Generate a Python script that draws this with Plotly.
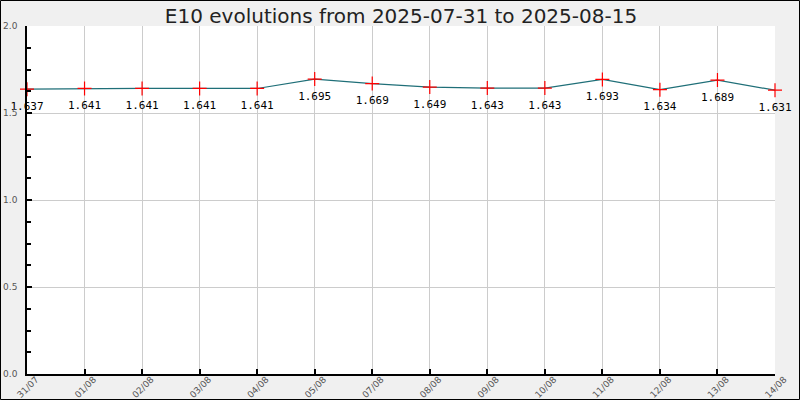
import plotly.graph_objects as go

dates = ["31/07", "01/08", "02/08", "03/08", "04/08", "05/08", "07/08",
         "08/08", "09/08", "10/08", "11/08", "12/08", "13/08", "14/08"]
prices = [1.637, 1.641, 1.641, 1.641, 1.641, 1.695, 1.669,
          1.649, 1.643, 1.643, 1.693, 1.634, 1.689, 1.631]
labels = [f"{v:.3f}" for v in prices]
title = "E10 evolutions from 2025-07-31 to 2025-08-15"

W, H = 800, 400
ml, mr, mt, mb = 27, 25, 26, 26
pw, ph = W - ml - mr, H - mt - mb

fig = go.Figure()
fig.add_trace(go.Scatter(
    x=dates, y=prices, mode="lines+markers",
    line=dict(color="#1f6f78", width=1.2),
    marker=dict(symbol="cross-thin", size=10, line=dict(color="#ff0000", width=1.2), color="#ff0000"),
    cliponaxis=False, showlegend=False, hoverinfo="skip",
))
# value labels below the points
fig.add_trace(go.Scatter(
    x=dates, y=prices, mode="text+markers",
    marker=dict(size=18, color="rgba(0,0,0,0)"),
    text=labels, textposition="bottom center",
    textfont=dict(family="DejaVu Sans Mono", size=11, color="#000000"),
    cliponaxis=False, showlegend=False, hoverinfo="skip",
))

fig.update_layout(
    width=W, height=H,
    margin=dict(l=ml, r=mr, t=mt, b=mb, pad=0, autoexpand=False),
    paper_bgcolor="#f0f0f0", plot_bgcolor="#ffffff",
    title=dict(text=title, x=0.5, xref="paper", xanchor="center", y=1 - 16 / H, yanchor="middle",
               automargin=False,
               font=dict(family="DejaVu Sans", size=20, color="#222222")),
    font=dict(family="DejaVu Sans"),
)
fig.update_xaxes(
    type="category", range=[0, len(dates) - 1], automargin=False,
    showgrid=True, gridcolor="#cccccc", gridwidth=1,
    showline=True, linecolor="#000000", linewidth=1.5,
    ticks="inside", ticklen=5, tickcolor="#000000", tickwidth=1.5,
    tickangle=-45, tickfont=dict(family="DejaVu Sans", size=9, color="#555555"),
    ticklabelstandoff=-5, ticklabelshift=9,
    zeroline=False,
)
fig.update_yaxes(
    range=[0, 2.0], dtick=0.5, tick0=0, tickformat=".1f", automargin=False,
    showgrid=True, gridcolor="#cccccc", gridwidth=1,
    showline=True, linecolor="#000000", linewidth=1.5,
    ticks="inside", ticklen=5, tickcolor="#000000", tickwidth=1.5,
    minor=dict(dtick=0.125, ticks="inside", ticklen=4, tickcolor="#000000", showgrid=False),
    tickfont=dict(family="DejaVu Sans", size=9, color="#555555"),
    ticklabelstandoff=6,
    zeroline=False,
)
# outer border around the whole image
fig.add_shape(type="rect", xref="paper", yref="paper",
              x0=(0.5 - ml) / pw, x1=(W - 0.5 - ml) / pw,
              y0=-(mb - 0.5) / ph, y1=1 + (mt - 0.5) / ph,
              line=dict(color="#000000", width=1), fillcolor="rgba(0,0,0,0)", layer="above")

fig.write_html("out.html", config={"displayModeBar": False},
               post_script="document.body.style.margin='0';document.body.style.padding='0';document.body.style.overflow='hidden';")
